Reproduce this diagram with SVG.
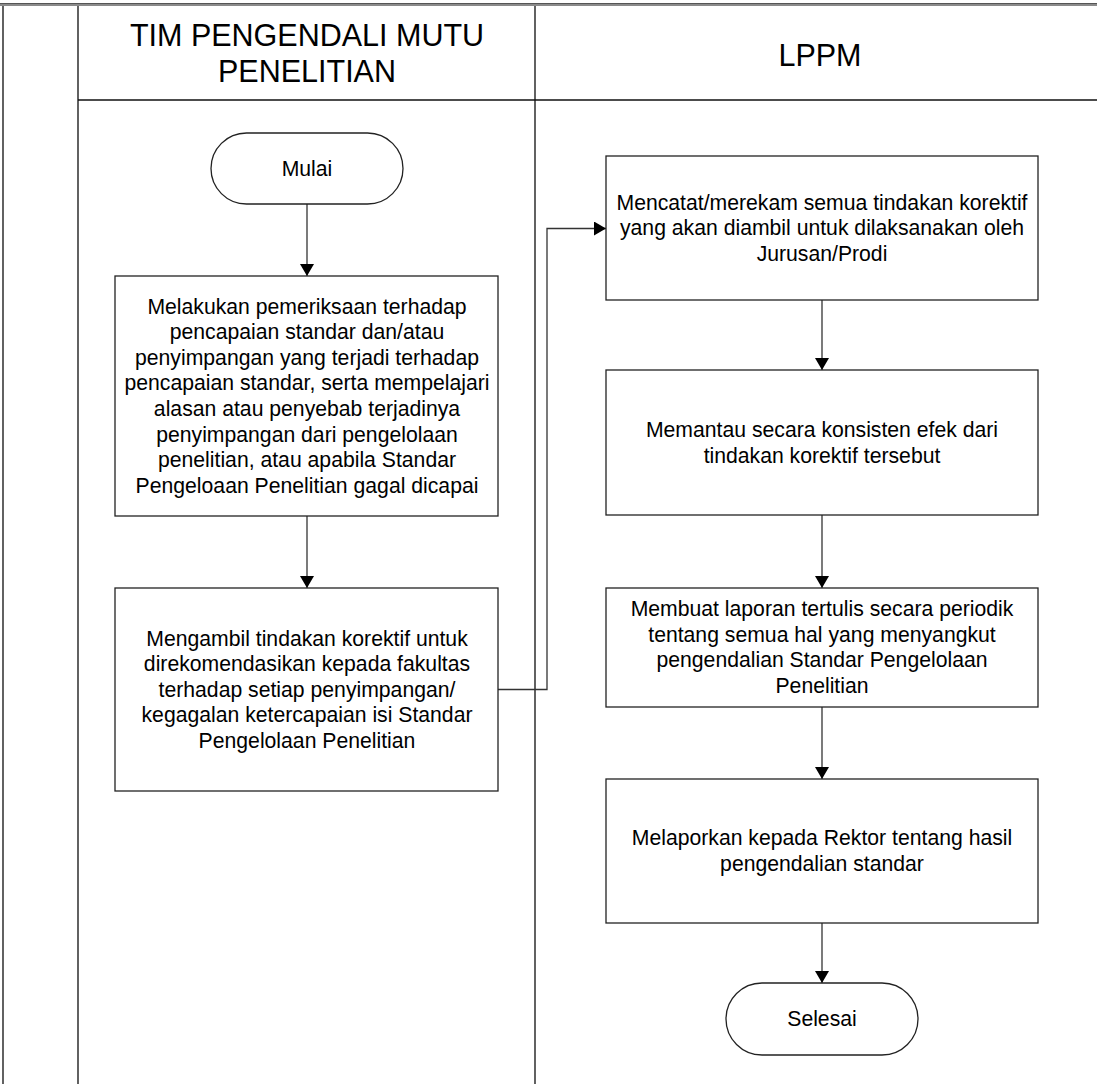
<svg xmlns="http://www.w3.org/2000/svg" width="1097" height="1084" viewBox="0 0 1097 1084">
<style>
.lane{stroke:#3a3a3a;stroke-width:1.6;fill:none}
.box{fill:#fff;stroke:#222;stroke-width:1.3}
.t{font-family:"Liberation Sans",Arial,sans-serif;font-size:21.2px;fill:#000;text-anchor:middle}
.h{font-family:"Liberation Sans",Arial,sans-serif;font-size:30.5px;fill:#000;text-anchor:middle}
.c{fill:none;stroke:#333;stroke-width:1.3}
</style>
<defs>
<marker id="ahv" viewBox="0 0 12 14" refX="12" refY="7" markerWidth="12" markerHeight="14" markerUnits="userSpaceOnUse" orient="auto">
<path d="M0,0 L12,7 L0,14 Z" fill="#000"/>
</marker>
</defs>
<rect width="1097" height="1084" fill="#fff"/>
<g id="pool">
<rect x="0" y="3" width="1097" height="3" fill="#8a8a8a"/>
<line x1="0" y1="3.5" x2="1097" y2="3.5" stroke="#555" stroke-width="1"/>
<line class="lane" x1="3" y1="6" x2="3" y2="1084"/>
<line class="lane" x1="78" y1="6" x2="78" y2="1084"/>
<line class="lane" x1="535" y1="6" x2="535" y2="1084"/>
<line x1="78" y1="100" x2="1097" y2="100" stroke="#111" stroke-width="1.3"/>
<text class="h" x="307" y="46">TIM PENGENDALI MUTU</text>
<text class="h" x="307" y="82">PENELITIAN</text>
<text class="h" x="820" y="66">LPPM</text>
</g>
<g id="connectors">
<line class="c" x1="307" y1="204" x2="307" y2="276" marker-end="url(#ahv)"/>
<line class="c" x1="307" y1="516" x2="307" y2="588" marker-end="url(#ahv)"/>
<polyline class="c" points="498,689.5 547,689.5 547,228.5 606,228.5" marker-end="url(#ahv)"/>
<line class="c" x1="822" y1="300" x2="822" y2="370" marker-end="url(#ahv)"/>
<line class="c" x1="822" y1="515" x2="822" y2="588" marker-end="url(#ahv)"/>
<line class="c" x1="822" y1="707" x2="822" y2="779" marker-end="url(#ahv)"/>
<line class="c" x1="822" y1="923" x2="822" y2="983" marker-end="url(#ahv)"/>
</g>
<g id="mulai">
<rect class="box" x="211" y="133" width="192" height="71" rx="35.5" ry="35.5"/>
<text class="t" x="307" y="176">Mulai</text>
</g>
<g id="periksa">
<rect class="box" x="115" y="276" width="383" height="240"/>
<text class="t" x="307" y="313.5">Melakukan pemeriksaan terhadap</text>
<text class="t" x="307" y="339.1">pencapaian standar dan/atau</text>
<text class="t" x="307" y="364.7">penyimpangan yang terjadi terhadap</text>
<text class="t" x="307" y="390.3">pencapaian standar, serta mempelajari</text>
<text class="t" x="307" y="415.9">alasan atau penyebab terjadinya</text>
<text class="t" x="307" y="441.5">penyimpangan dari pengelolaan</text>
<text class="t" x="307" y="467.1">penelitian, atau apabila Standar</text>
<text class="t" x="307" y="492.7">Pengeloaan Penelitian gagal dicapai</text>
</g>
<g id="korektif">
<rect class="box" x="115" y="588" width="383" height="203"/>
<text class="t" x="307" y="645.5">Mengambil tindakan korektif untuk</text>
<text class="t" x="307" y="671.1">direkomendasikan kepada fakultas</text>
<text class="t" x="307" y="696.7">terhadap setiap penyimpangan/</text>
<text class="t" x="307" y="722.3">kegagalan ketercapaian isi Standar</text>
<text class="t" x="307" y="747.9">Pengelolaan Penelitian</text>
</g>
<g id="mencatat">
<rect class="box" x="606" y="156" width="432" height="144"/>
<text class="t" x="822" y="209.5">Mencatat/merekam semua tindakan korektif</text>
<text class="t" x="822" y="235.1">yang akan diambil untuk dilaksanakan oleh</text>
<text class="t" x="822" y="260.7">Jurusan/Prodi</text>
</g>
<g id="memantau">
<rect class="box" x="606" y="370" width="432" height="145"/>
<text class="t" x="822" y="437">Memantau secara konsisten efek dari</text>
<text class="t" x="822" y="462.6">tindakan korektif tersebut</text>
</g>
<g id="laporan">
<rect class="box" x="606" y="588" width="432" height="119"/>
<text class="t" x="822" y="616">Membuat laporan tertulis secara periodik</text>
<text class="t" x="822" y="641.6">tentang semua hal yang menyangkut</text>
<text class="t" x="822" y="667.2">pengendalian Standar Pengelolaan</text>
<text class="t" x="822" y="692.8">Penelitian</text>
</g>
<g id="melaporkan">
<rect class="box" x="606" y="779" width="432" height="144"/>
<text class="t" x="822" y="845">Melaporkan kepada Rektor tentang hasil</text>
<text class="t" x="822" y="870.6">pengendalian standar</text>
</g>
<g id="selesai">
<rect class="box" x="726" y="983" width="192" height="72" rx="36" ry="36"/>
<text class="t" x="822" y="1026">Selesai</text>
</g>
</svg>
